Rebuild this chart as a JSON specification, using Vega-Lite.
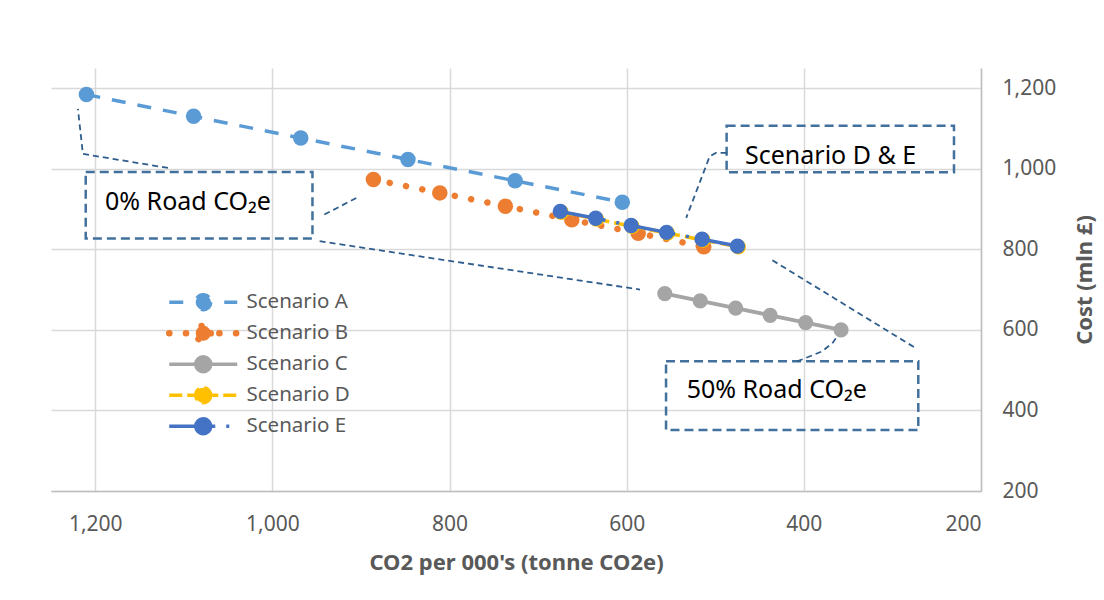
{
  "$schema": "https://vega.github.io/schema/vega-lite/v6.json",
  "width": 930,
  "height": 423,
  "autosize": "none",
  "padding": {"left": 51, "top": 68, "right": 123, "bottom": 109},
  "background": "white",
  "datasets": {
    "scen": [
      {"s": "Scenario A", "x": 1210, "y": 1184},
      {"s": "Scenario A", "x": 1089, "y": 1130},
      {"s": "Scenario A", "x": 968, "y": 1076},
      {"s": "Scenario A", "x": 847, "y": 1023},
      {"s": "Scenario A", "x": 726, "y": 970},
      {"s": "Scenario A", "x": 605, "y": 917},
      {"s": "Scenario B", "x": 886, "y": 973},
      {"s": "Scenario B", "x": 811, "y": 940},
      {"s": "Scenario B", "x": 737, "y": 907},
      {"s": "Scenario B", "x": 662, "y": 873},
      {"s": "Scenario B", "x": 587, "y": 840},
      {"s": "Scenario B", "x": 513, "y": 806},
      {"s": "Scenario C", "x": 557, "y": 690},
      {"s": "Scenario C", "x": 517, "y": 672},
      {"s": "Scenario C", "x": 477, "y": 654},
      {"s": "Scenario C", "x": 438, "y": 636},
      {"s": "Scenario C", "x": 398, "y": 618},
      {"s": "Scenario C", "x": 358, "y": 600},
      {"s": "Scenario D", "x": 674, "y": 892},
      {"s": "Scenario D", "x": 634, "y": 875},
      {"s": "Scenario D", "x": 594, "y": 857},
      {"s": "Scenario D", "x": 554, "y": 840},
      {"s": "Scenario D", "x": 514, "y": 823},
      {"s": "Scenario D", "x": 474, "y": 806},
      {"s": "Scenario E", "x": 675, "y": 894},
      {"s": "Scenario E", "x": 635, "y": 877},
      {"s": "Scenario E", "x": 595, "y": 859},
      {"s": "Scenario E", "x": 555, "y": 842},
      {"s": "Scenario E", "x": 515, "y": 825},
      {"s": "Scenario E", "x": 475, "y": 808}
    ],
    "boxes": [
      {"x": 1210.8, "x2": 954.8, "y": 992.1, "y2": 826.6},
      {"x": 487.2, "x2": 230.5, "y": 1106.9, "y2": 991.1},
      {"x": 555.6, "x2": 270.8, "y": 522.3, "y2": 351.2}
    ],
    "notes": [
      {"x": 1189, "y": 898.6, "t": "0% Road CO₂e"},
      {"x": 466.4, "y": 1012.6, "t": "Scenario D & E"},
      {"x": 532.3, "y": 431.5, "t": "50% Road CO₂e"}
    ],
    "leaders": [
      {"id": 1, "k": 0, "x": 1118, "y": 1002},
      {"id": 1, "k": 1, "x": 1214, "y": 1036.7},
      {"id": 1, "k": 2, "x": 1219.6, "y": 1148.3},
      {"id": 2, "k": 0, "x": 941.4, "y": 886.2},
      {"id": 2, "k": 1, "x": 905.2, "y": 927.6},
      {"id": 3, "k": 0, "x": 946.7, "y": 820},
      {"id": 3, "k": 1, "x": 585, "y": 700},
      {"id": 4, "k": 0, "x": 487.2, "y": 1039.2},
      {"id": 4, "k": 1, "x": 499.4, "y": 1039.2},
      {"id": 4, "k": 2, "x": 506.3, "y": 1030.8},
      {"id": 4, "k": 3, "x": 532.8, "y": 878},
      {"id": 5, "k": 0, "x": 407.7, "y": 521.6},
      {"id": 5, "k": 1, "x": 379.5, "y": 546.4},
      {"id": 5, "k": 2, "x": 367.1, "y": 568.7},
      {"id": 5, "k": 3, "x": 362.6, "y": 583.6},
      {"id": 6, "k": 0, "x": 435.6, "y": 772.8},
      {"id": 6, "k": 1, "x": 272.6, "y": 553.1}
    ]
  },
  "encoding": {
    "x": {
      "field": "x",
      "type": "quantitative",
      "scale": {"domain": [200, 1250], "reverse": true, "nice": false, "zero": false},
      "axis": {
        "values": [1200, 1000, 800, 600, 400, 200],
        "format": ",.0f",
        "title": "CO2 per 000's (tonne CO2e)",
        "labelPadding": 22,
        "titlePadding": 18
      }
    },
    "y": {
      "field": "y",
      "type": "quantitative",
      "scale": {"domain": [200, 1250], "nice": false, "zero": false},
      "axis": {
        "orient": "right",
        "values": [200, 400, 600, 800, 1000, 1200],
        "format": ",.0f",
        "title": "Cost (mln £)",
        "labelAlign": "left",
        "labelPadding": 21,
        "titleAngle": 270,
        "titleX": 103,
        "titleY": 211.5,
        "titleAlign": "center",
        "titleBaseline": "middle"
      }
    }
  },
  "layer": [
    {
      "data": {"name": "scen"},
      "encoding": {
        "color": {
          "field": "s",
          "type": "nominal",
          "scale": {
            "domain": ["Scenario A", "Scenario B", "Scenario C", "Scenario D", "Scenario E"],
            "range": ["#5B9BD5", "#ED7D31", "#A5A5A5", "#FFC000", "#4472C4"]
          },
          "legend": {
            "orient": "none",
            "legendX": 142,
            "legendY": 224,
            "title": null,
            "padding": 0,
            "gridAlign": "all",
            "symbolType": "M-4,0L4,0M0.88,0A0.88,0.88,0,1,1,-0.88,0A0.88,0.88,0,1,1,0.88,0Z",
            "symbolSize": 289,
            "labelOffset": 33,
            "rowPadding": -12,
            "labelFont": "Noto Sans",
            "labelFontSize": 20.5,
            "labelColor": "#595959",
            "encode": {
              "symbols": {
                "update": {
                  "fill": {"scale": "color", "field": "value"},
                  "fillOpacity": {"value": 1},
                  "strokeDash": {"signal": "datum.value === 'Scenario A' ? [14, 13.5] : datum.value === 'Scenario B' ? [0.1, 16.6] : datum.value === 'Scenario D' ? [13, 5] : datum.value === 'Scenario E' ? [46, 11, 3, 11] : null"},
                  "strokeWidth": {"signal": "datum.value === 'Scenario B' ? 6.5 : 3.5"},
                  "strokeCap": {"signal": "datum.value === 'Scenario B' ? 'round' : 'butt'"}
                }
              }
            }
          }
        },
        "order": {"field": "x", "sort": "descending"}
      },
      "layer": [
        {
          "transform": [{"filter": "datum.s === 'Scenario A'"}],
          "mark": {"type": "line", "strokeWidth": 3.5, "strokeDash": [14, 12], "point": {"filled": true, "size": 240, "opacity": 1}}
        },
        {
          "transform": [{"filter": "datum.s === 'Scenario B'"}],
          "mark": {"type": "line", "strokeWidth": 6.5, "strokeDash": [0.1, 16.5], "strokeCap": "round", "point": {"filled": true, "size": 240, "opacity": 1}}
        },
        {
          "transform": [{"filter": "datum.s === 'Scenario C'"}],
          "mark": {"type": "line", "strokeWidth": 4, "point": {"filled": true, "size": 230, "opacity": 1}}
        },
        {
          "transform": [{"filter": "datum.s === 'Scenario D'"}],
          "mark": {"type": "line", "strokeWidth": 3.5, "strokeDash": [13, 5], "point": {"filled": true, "size": 235, "opacity": 1}}
        },
        {
          "transform": [{"filter": "datum.s === 'Scenario E'"}],
          "mark": {"type": "line", "strokeWidth": 3.5, "strokeDash": [46, 11, 3, 11], "point": {"filled": true, "size": 235, "opacity": 1}}
        }
      ]
    },
    {
      "data": {"name": "boxes"},
      "mark": {"type": "rect", "fill": null, "stroke": "#41719C", "strokeWidth": 2.5, "strokeDash": [9, 5]},
      "encoding": {
        "x2": {"field": "x2"},
        "y2": {"field": "y2"}
      }
    },
    {
      "data": {"name": "leaders"},
      "mark": {"type": "line", "stroke": "#2F5D8C", "strokeWidth": 1.8, "strokeDash": [6, 4]},
      "encoding": {
        "detail": {"field": "id", "type": "nominal"},
        "order": {"field": "k", "type": "quantitative"}
      }
    },
    {
      "data": {"name": "notes"},
      "mark": {"type": "text", "align": "left", "baseline": "alphabetic", "font": "Noto Sans", "fontSize": 25, "color": "#000000"},
      "encoding": {
        "text": {"field": "t", "type": "nominal"}
      }
    }
  ],
  "config": {
    "view": {"stroke": null},
    "axis": {
      "grid": true,
      "gridColor": "#D9D9D9",
      "gridWidth": 1.5,
      "domainColor": "#BFBFBF",
      "domainWidth": 1.5,
      "ticks": false,
      "labelFont": "Noto Sans",
      "labelFontSize": 21,
      "labelColor": "#595959",
      "titleFont": "Noto Sans",
      "titleFontSize": 22,
      "titleFontWeight": "bold",
      "titleColor": "#595959"
    }
  }
}
